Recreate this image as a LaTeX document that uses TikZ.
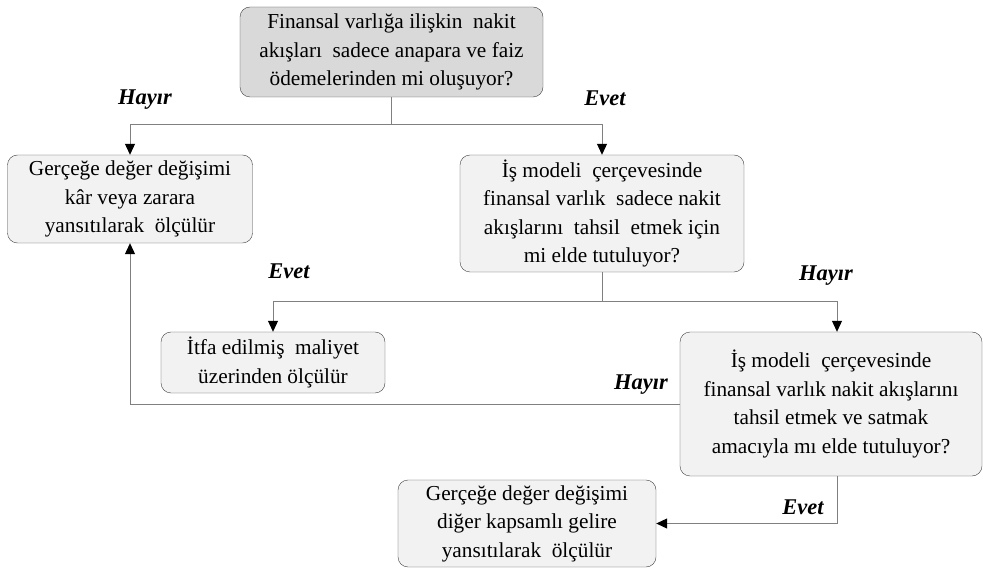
\documentclass[tikz,border=0pt]{standalone}
\usepackage{fontspec}
\setmainfont{Liberation Serif}
\usepackage{tikz}
\usetikzlibrary{arrows.meta}

\begin{document}
\begin{tikzpicture}[x=1pt,y=-1pt,
    box/.style={draw=black!75,rounded corners=10pt,fill=black!5,align=center,
      font=\fontsize{21.3}{28.5}\selectfont,inner sep=0pt},
    conn/.style={draw=black!50,line width=1pt},
    arr/.style={conn,-{Triangle[black,length=11pt,width=10pt]}},
    lbl/.style={font=\fontsize{22.5}{24}\selectfont\bfseries\itshape}]
  \useasboundingbox (0,0) rectangle (983,569);
  % boxes
  \node[box,fill=black!15,minimum width=303,minimum height=90] (q1) at (391.5,52)
    {Finansal varlığa ilişkin\ \ nakit\\ akışları\ \ sadece anapara ve faiz\\ ödemelerinden mi oluşuyor?};
  \node[box,minimum width=245,minimum height=88] (fv1) at (130,199)
    {Gerçeğe değer değişimi\\ kâr veya zarara\\ yansıtılarak\ \ ölçülür};
  \node[box,minimum width=284,minimum height=117] (q2) at (602,213.5)
    {İş modeli\ \ çerçevesinde\\ finansal varlık\ \ sadece nakit\\ akışlarını\ \ tahsil\ \ etmek için\\ mi elde tutuluyor?};
  \node[box,minimum width=224,minimum height=61] (itfa) at (273,362.5)
    {İtfa edilmiş\ \ maliyet\\ üzerinden ölçülür};
  \node[box,minimum width=302,minimum height=144] (q3) at (831,404)
    {İş modeli\ \ çerçevesinde\\ finansal varlık nakit akışlarını\\ tahsil etmek ve satmak\\ amacıyla mı elde tutuluyor?};
  \node[box,minimum width=258,minimum height=87] (fv2) at (527,523.5)
    {Gerçeğe değer değişimi\\ diğer kapsamlı gelire\\ yansıtılarak\ \ ölçülür};
  % connectors
  \coordinate (j1) at (391.5,125);
  \coordinate (j2) at (602,302);
  \draw[conn] (q1.south) -- (j1);
  \draw[arr] (j1) -| (fv1.north);
  \draw[arr] (j1) -| (q2.north);
  \draw[conn] (q2.south) -- (j2);
  \draw[arr] (j2) -| (itfa.north);
  \draw[arr] (j2) -| ([xshift=6pt]q3.north);
  \draw[arr] (q3.west) -| (fv1.south);
  \draw[arr] ([xshift=6pt]q3.south) |- (fv2.east);
  % labels
  \node[lbl] (h1) at (145,100) {Hayır};
  \node[lbl] (e1) at (605,98) {Evet};
  \node[lbl] (e2) at (289,271) {Evet};
  \node[lbl] (h2) at (826,276) {Hayır};
  \node[lbl] (h3) at (641,385) {Hayır};
  \node[lbl] (e3) at (803,507) {Evet};
\end{tikzpicture}
\end{document}
